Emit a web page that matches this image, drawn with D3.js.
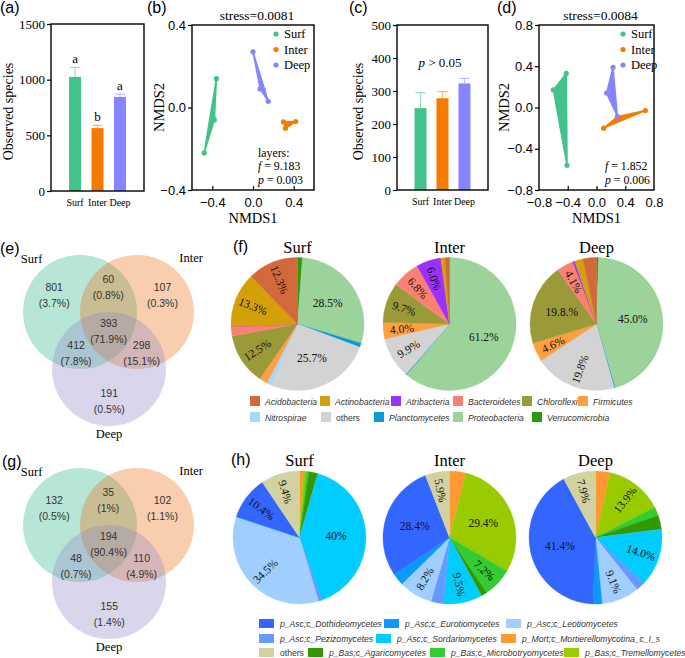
<!DOCTYPE html>
<html>
<head>
<meta charset="utf-8">
<script src="https://cdn.jsdelivr.net/npm/d3@7/dist/d3.min.js"></script>
<style>
  body { margin: 0; background: #fff; }
</style>
</head>
<body>
<svg id="fig" width="685" height="658"></svg>
<script>
'use strict';

const SERIF = '"Liberation Serif", "Times New Roman", serif';
const SANS = '"Liberation Sans", Arial, sans-serif';

// ---------- data ----------
const groups = ["Surf", "Inter", "Deep"];
const groupColors = ["#41c38a", "#f47b00", "#8585ff"];

// (a) bacteria / (c) fungi observed species
const bacSpecies = [1025, 565, 845];
const bacSpeciesErr = [85, 25, 25];
const bacLetters = ["a", "b", "a"];
const funSpecies = [248, 278, 323];
const funSpeciesErr = [47, 20, 15];

// (b) / (d) NMDS scores [NMDS1, NMDS2]
const bacNmdsSurf = [[-0.48, -0.22], [-0.39, -0.05], [-0.38, -0.06], [-0.36, 0.14]];
const bacNmdsInter = [[0.30, -0.07], [0.42, -0.068], [0.32, -0.10], [0.35, -0.08]];
const bacNmdsDeep = [[0.0, 0.27], [0.07, 0.09], [0.10, 0.085], [0.15, 0.03]];
const funNmdsSurf = [[-0.60, 0.17], [-0.42, 0.33], [-0.41, -0.56], [-0.52, 0.16]];
const funNmdsInter = [[0.10, -0.20], [0.68, -0.03], [0.29, -0.09], [0.28, -0.12]];
const funNmdsDeep = [[0.23, 0.39], [0.14, 0.14], [0.29, -0.085], [0.18, 0.14]];

// (e) / (g) Venn: Surf only, Inter only, Deep only, S&I, S&D, I&D, all
const bacVennCounts = [801, 107, 191, 60, 412, 298, 393];
const bacVennPct = ["3.7%", "0.3%", "0.5%", "0.8%", "7.8%", "15.1%", "71.9%"];
const funVennCounts = [132, 102, 155, 35, 48, 110, 194];
const funVennPct = ["0.5%", "1.1%", "1.4%", "1%", "0.7%", "4.9%", "90.4%"];

// (f) phyla (%)
const phyla = ["Acidobacteria", "Actinobacteria", "Atribacteria", "Bacteroidetes", "Chloroflexi",
  "Firmicutes", "Nitrospirae", "others", "Planctomycetes", "Proteobacteria", "Verrucomicrobia"];
const phylaColors = ["#d2693a", "#d4a00a", "#9b30ff", "#fa8072", "#9a9a38",
  "#ffa040", "#a6d8f7", "#d3d3d3", "#0a9ad8", "#9bd39b", "#2e9a0a"];
const phylaSurf = [12.3, 13.3, 0, 2.3, 12.5, 2.0, 1.2, 25.7, 1.0, 28.5, 1.2];
const phylaInter = [1.1, 1.0, 6.0, 6.8, 9.7, 4.0, 0.1, 9.9, 0.2, 61.2, 0];
const phylaDeep = [3.3, 2.0, 0.5, 4.1, 19.8, 4.6, 0.2, 19.8, 0.2, 45.0, 0.5];
const phylaSurfLab = ["12.3%", "13.3%", "", "", "12.5%", "", "", "25.7%", "", "28.5%", ""];
const phylaInterLab = ["", "", "6.0%", "6.8%", "9.7%", "4.0%", "", "9.9%", "", "61.2%", ""];
const phylaDeepLab = ["", "", "", "4.1%", "19.8.%", "4.6%", "", "19.8%", "", "45.0%", ""];

// (h) fungal classes (%)
const classes = ["p_Asc;c_Dothideomycetes", "p_Asc;c_Eurotiomycetes", "p_Asc;c_Leotiomycetes",
  "p_Asc;c_Pezizomycetes", "p_Asc;c_Sordariomycetes", "p_Mort;c_Mortierellomycotina_c_I_s",
  "others", "p_Bas;c_Agaricomycetes", "p_Bas;c_Microbotryomycetes", "p_Bas;c_Tremellomycetes"];
const classColors = ["#3366ff", "#0a99ff", "#a0cfff", "#6699ff", "#00ccff",
  "#ff9933", "#d2d2a0", "#339900", "#33cc33", "#99cc00"];
const classSurf = [10.4, 0.1, 34.5, 0.8, 40, 0.9, 9.4, 2.1, 0.6, 0.8];
const classInter = [28.4, 3.0, 8.2, 3.0, 9.5, 4.0, 5.9, 1.4, 7.2, 29.4];
const classDeep = [41.4, 2.2, 9.1, 2.2, 14.0, 3.6, 7.9, 3.4, 2.1, 13.9];
const classSurfLab = ["10.4%", "", "34.5%", "", "40%", "", "9.4%", "", "", ""];
const classInterLab = ["28.4%", "", "8.2%", "", "9.5%", "", "5.9%", "", "7.2%", "29.4%"];
const classDeepLab = ["41.4%", "", "9.1%", "", "14.0%", "", "7.9%", "", "", "13.9%"];

// ---------- drawing ----------
const svg = d3.select("#fig");

function panelLabel(txt, x, y) {
  svg.append("text").attr("x", x).attr("y", y)
    .attr("font-family", SANS).attr("font-size", 16).text(txt);
}

function styleAxis(sel, font, size) {
  sel.select(".domain").remove();
  sel.selectAll(".tick line").attr("stroke", "#000").attr("stroke-width", 1.2);
  sel.selectAll(".tick text").attr("font-family", font).attr("font-size", size).attr("fill", "#000");
}

function frame(x0, y0, x1, y1) {
  svg.append("rect").attr("x", x0).attr("y", y0)
    .attr("width", x1 - x0).attr("height", y1 - y0)
    .attr("fill", "none").attr("stroke", "#000").attr("stroke-width", 1.4);
}

function barPanel(c) {
  const x = d3.scalePoint().domain(groups).range([c.x0, c.x1]).padding(1.07);
  const y = d3.scaleLinear().domain(c.yDomain).range([c.y1, c.y0]);
  const g = svg.append("g");
  const bw = 12;

  g.selectAll("rect").data(c.values).join("rect")
    .attr("x", (d, i) => x(groups[i]) - bw / 2).attr("width", bw)
    .attr("y", d => y(d)).attr("height", d => y(0) - y(d))
    .attr("fill", (d, i) => groupColors[i]);

  c.values.forEach((v, i) => {
    const cx = x(groups[i]);
    const col = d3.interpolateRgb(groupColors[i], "#fff")(0.45);
    g.append("line").attr("x1", cx).attr("x2", cx).attr("y1", y(v)).attr("y2", y(v + c.err[i]))
      .attr("stroke", col).attr("stroke-width", 1.2);
    g.append("line").attr("x1", cx - 5).attr("x2", cx + 5)
      .attr("y1", y(v + c.err[i])).attr("y2", y(v + c.err[i]))
      .attr("stroke", col).attr("stroke-width", 1.2);
    if (c.letters) {
      g.append("text").attr("x", cx).attr("y", y(v + c.err[i]) - 4)
        .attr("text-anchor", "middle").attr("font-family", SERIF).attr("font-size", 13)
        .text(c.letters[i]);
    }
  });

  const ax = svg.append("g").attr("transform", `translate(${c.x0},0)`)
    .call(d3.axisLeft(y).tickValues(c.ticks).tickSize(4).tickPadding(2).tickFormat(d3.format("d")));
  styleAxis(ax, SERIF, 13);

  groups.forEach(gname => {
    svg.append("text").attr("x", x(gname)).attr("y", c.y1 + 15)
      .attr("text-anchor", "middle").attr("font-family", SERIF).attr("font-size", 10)
      .text(gname);
  });

  frame(c.x0, c.y0, c.x1, c.y1);

  svg.append("text")
    .attr("transform", `translate(${c.ylabX},${(c.y0 + c.y1) / 2 + 4}) rotate(-90)`)
    .attr("text-anchor", "middle").attr("font-family", SERIF).attr("font-size", 14)
    .text("Observed species");
}

function nmdsPanel(c) {
  const x = d3.scaleLinear().domain(c.xDomain).range([c.x0, c.x1]);
  const y = d3.scaleLinear().domain(c.yDomain).range([c.y1, c.y0]);
  const g = svg.append("g");

  c.points.forEach((pts, gi) => {
    const px = pts.map(p => [x(p[0]), y(p[1])]);
    const hull = d3.polygonHull(px);
    g.append("path").attr("d", "M" + hull.join("L") + "Z")
      .attr("fill", groupColors[gi]).attr("stroke", groupColors[gi])
      .attr("stroke-width", 1.5).attr("stroke-linejoin", "round");
    g.selectAll(null).data(px).join("circle")
      .attr("cx", d => d[0]).attr("cy", d => d[1]).attr("r", 2.6)
      .attr("fill", groupColors[gi]);
  });

  const ay = svg.append("g").attr("transform", `translate(${c.x0},0)`)
    .call(d3.axisLeft(y).tickValues(c.ticks).tickSize(4).tickPadding(2).tickFormat(d3.format(".1f")));
  styleAxis(ay, SANS, 13);
  const axb = svg.append("g").attr("transform", `translate(0,${c.y1})`)
    .call(d3.axisBottom(x).tickValues(c.ticks).tickSize(-4).tickPadding(8).tickFormat(d3.format(".1f")));
  styleAxis(axb, SANS, 13);
  axb.selectAll(".tick line").filter(d => d === c.xDomain[0] || d === c.xDomain[1]).remove();

  frame(c.x0, c.y0, c.x1, c.y1);

  svg.append("text").attr("x", (c.x0 + c.x1) / 2 + 4).attr("y", c.y0 - 5)
    .attr("text-anchor", "middle").attr("font-family", SERIF).attr("font-size", 13.5)
    .text(c.stress);

  groups.forEach((gname, i) => {
    svg.append("circle").attr("cx", c.legX).attr("cy", c.y0 + 9 + i * 15.5).attr("r", 2.6)
      .attr("fill", groupColors[i]);
    svg.append("text").attr("x", c.legX + 8).attr("y", c.y0 + 13 + i * 15.5)
      .attr("font-family", SERIF).attr("font-size", 12.5).text(gname);
  });

  const stat = svg.append("g").attr("font-family", SERIF).attr("font-size", 11.8);
  let yy = c.y1 - 6;
  const lines = c.stats.slice().reverse();
  lines.forEach(l => {
    const t = stat.append("text").attr("x", c.statX).attr("y", yy);
    if (l.k) {
      t.append("tspan").attr("font-style", "italic").text(l.k);
      t.append("tspan").text(" = " + l.v);
    } else {
      t.text(l.v);
    }
    yy -= 13.6;
  });

  svg.append("text")
    .attr("transform", `translate(${c.ylabX},${(c.y0 + c.y1) / 2}) rotate(-90)`)
    .attr("text-anchor", "middle").attr("font-family", SERIF).attr("font-size", 14.5)
    .text("NMDS2");
  svg.append("text").attr("x", (c.x0 + c.x1) / 2).attr("y", c.y1 + 33)
    .attr("text-anchor", "middle").attr("font-family", SERIF).attr("font-size", 14.5)
    .text("NMDS1");
}

function vennPanel(c) {
  const base = ["#31b88a", "#eb7318", "#938ac6"];
  const r = c.r;
  const C = c.centers;
  const g = svg.append("g");
  C.forEach((p, i) => {
    g.append("circle").attr("cx", p[0]).attr("cy", p[1]).attr("r", r)
      .attr("fill", base[i]).attr("fill-opacity", 0.35);
  });
  const G = [d3.mean(C, p => p[0]), d3.mean(C, p => p[1])];
  const away = (p, k) => [p[0] + (p[0] - G[0]) * k, p[1] + (p[1] - G[1]) * k];
  const mid = (a, b) => [(a[0] + b[0]) / 2, (a[1] + b[1]) / 2];
  const spots = [
    away(C[0], 0.9), away(C[1], 0.9), away(C[2], 0.85),
    away(mid(C[0], C[1]), 1.3), away(mid(C[0], C[2]), 1.3), away(mid(C[1], C[2]), 1.3),
    G
  ];
  spots.forEach((s, i) => {
    const t = g.append("g").attr("font-family", SANS).attr("font-size", 10.5)
      .attr("fill", "#333").attr("text-anchor", "middle");
    t.append("text").attr("x", s[0]).attr("y", s[1] - 8).attr("dy", "0.35em").text(c.counts[i]);
    t.append("text").attr("x", s[0]).attr("y", s[1] + 8).attr("dy", "0.35em").text("(" + c.pct[i] + ")");
  });
  const lab = g.append("g").attr("font-family", SERIF).attr("font-size", 12.5);
  lab.append("text").attr("x", C[0][0] - r * 0.85).attr("y", C[0][1] - r + 8)
    .attr("text-anchor", "middle").text(groups[0]);
  lab.append("text").attr("x", C[1][0] + r * 0.95).attr("y", C[1][1] - r + 7)
    .attr("text-anchor", "middle").text(groups[1]);
  lab.append("text").attr("x", C[2][0]).attr("y", C[2][1] + r + 12)
    .attr("text-anchor", "middle").text(groups[2]);
}

function piePanel(c) {
  const items = c.order.map(i => ({ name: c.names[i], color: c.colors[i], value: c.values[i], label: c.labels[i] }));
  const arcs = d3.pie().sort(null).value(d => d.value)(items);
  const arc = d3.arc().innerRadius(0).outerRadius(c.r);
  const g = svg.append("g").attr("transform", `translate(${c.cx},${c.cy})`);
  g.selectAll("path").data(arcs).join("path")
    .attr("d", arc).attr("fill", d => d.data.color)
    .attr("stroke", d => d.data.color).attr("stroke-width", 0.4);
  g.selectAll("text.lab").data(arcs.filter(d => d.data.label)).join("text")
    .attr("class", "lab")
    .attr("text-anchor", "middle").attr("dy", "0.35em")
    .attr("font-family", SERIF).attr("font-size", 11.5).attr("fill", "#111")
    .attr("transform", d => {
      const m = (d.startAngle + d.endAngle) / 2;
      const flat = c.flat.includes(d.data.name);
      const rr = c.r * (flat ? 0.55 : 0.72);
      let rot = 0;
      if (!flat) {
        rot = (m * 180 / Math.PI + 90) % 180;
        if (rot > 90) rot -= 180;
      }
      return `translate(${rr * Math.sin(m)},${-rr * Math.cos(m)}) rotate(${rot})`;
    })
    .text(d => d.data.label);
  g.append("text").attr("y", -c.r - 5).attr("text-anchor", "middle")
    .attr("font-family", SERIF).attr("font-size", 16.5).text(c.title);
}

function pieLegend(names, colors, xs, rows, rowY, sw, gap) {
  names.forEach((n, i) => {
    const y = rowY[rows[i]];
    svg.append("rect").attr("x", xs[i]).attr("y", y - sw[1] + 1)
      .attr("width", sw[0]).attr("height", sw[1]).attr("fill", colors[i]);
    svg.append("text").attr("x", xs[i] + gap).attr("y", y)
      .attr("font-family", SANS).attr("font-size", 8.6)
      .attr("font-style", n === "others" ? "normal" : "italic")
      .attr("fill", "#333").text(n);
  });
}

// (a)
barPanel({ x0: 51, x1: 144, y0: 24, y1: 191, yDomain: [0, 1500], ticks: [0, 500, 1000, 1500],
  values: bacSpecies, err: bacSpeciesErr, letters: bacLetters, ylabX: 13 });
panelLabel("(a)", 0, 13);

// (b)
nmdsPanel({ x0: 192, x1: 314, y0: 25, y1: 190, xDomain: [-0.6, 0.6], yDomain: [-0.4, 0.4],
  ticks: [-0.4, 0, 0.4], points: [bacNmdsSurf, bacNmdsInter, bacNmdsDeep],
  stress: "stress=0.0081", legX: 276, statX: 258, ylabX: 164,
  stats: [{ v: "layers:" }, { k: "f", v: "9.183" }, { k: "p", v: "0.003" }] });
panelLabel("(b)", 147, 13);

// (c)
barPanel({ x0: 397, x1: 488, y0: 25, y1: 190, yDomain: [0, 500], ticks: [0, 100, 200, 300, 400, 500],
  values: funSpecies, err: funSpeciesErr, ylabX: 363 });
const pt = svg.append("text").attr("x", 440).attr("y", 67).attr("text-anchor", "middle")
  .attr("font-family", SERIF).attr("font-size", 13);
pt.append("tspan").attr("font-style", "italic").text("p");
pt.append("tspan").text(" > 0.05");
panelLabel("(c)", 349, 13);

// (d)
nmdsPanel({ x0: 539, x1: 654, y0: 25, y1: 190, xDomain: [-0.8, 0.8], yDomain: [-0.8, 0.8],
  ticks: [-0.8, -0.4, 0, 0.4, 0.8], points: [funNmdsSurf, funNmdsInter, funNmdsDeep],
  stress: "stress=0.0084", legX: 623, statX: 605, ylabX: 509,
  stats: [{ k: "f", v: "1.852" }, { k: "p", v: "0.006" }] });
panelLabel("(d)", 497, 13);

// (e)
vennPanel({ centers: [[80, 312], [137, 312], [109, 369]], r: 57, counts: bacVennCounts, pct: bacVennPct });
panelLabel("(e)", 0, 254);

// (f)
const phylaOrder = d3.range(phyla.length).reverse();
piePanel({ cx: 297.5, cy: 324, r: 66.5, title: "Surf", names: phyla, colors: phylaColors,
  values: phylaSurf, labels: phylaSurfLab, order: phylaOrder, flat: ["Proteobacteria", "others"] });
piePanel({ cx: 449.5, cy: 324, r: 66.5, title: "Inter", names: phyla, colors: phylaColors,
  values: phylaInter, labels: phylaInterLab, order: phylaOrder, flat: ["Proteobacteria"] });
piePanel({ cx: 596.5, cy: 324, r: 66.5, title: "Deep", names: phyla, colors: phylaColors,
  values: phylaDeep, labels: phylaDeepLab, order: phylaOrder, flat: ["Proteobacteria", "Chloroflexi"] });
pieLegend(phyla, phylaColors,
  [250, 320, 391, 453, 522, 578, 250, 321, 374, 453, 532],
  [0, 0, 0, 0, 0, 0, 1, 1, 1, 1, 1], [405, 421], [10, 10], 15);
panelLabel("(f)", 233, 252);

// (g)
vennPanel({ centers: [[80, 525], [137, 525], [109, 582]], r: 57, counts: funVennCounts, pct: funVennPct });
panelLabel("(g)", 2, 467);

// (h)
const classOrder = [5, 9, 8, 7, 4, 3, 2, 1, 0, 6];
piePanel({ cx: 299.5, cy: 537.5, r: 66.5, title: "Surf", names: classes, colors: classColors,
  values: classSurf, labels: classSurfLab, order: classOrder, flat: [classes[4]] });
piePanel({ cx: 449.5, cy: 537.5, r: 66.5, title: "Inter", names: classes, colors: classColors,
  values: classInter, labels: classInterLab, order: classOrder, flat: [classes[0], classes[9]] });
piePanel({ cx: 595.5, cy: 537.5, r: 66.5, title: "Deep", names: classes, colors: classColors,
  values: classDeep, labels: classDeepLab, order: classOrder, flat: [classes[0]] });
pieLegend(classes, classColors,
  [259, 384, 506, 259, 376, 501, 259, 308, 430, 564],
  [0, 0, 0, 1, 1, 1, 2, 2, 2, 2], [627, 642, 656], [15, 9], 21);
panelLabel("(h)", 231, 465);
</script>
</body>
</html>
